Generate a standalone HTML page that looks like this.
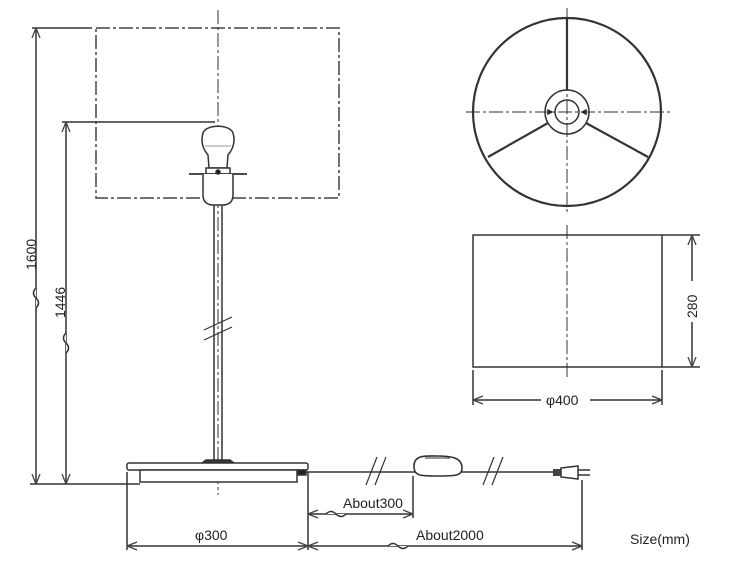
<!DOCTYPE html>
<html><head><meta charset="utf-8"><style>
html,body{margin:0;padding:0;background:#fff;}
svg{display:block;}
text{font-family:"Liberation Sans",sans-serif;font-size:14px;fill:#222;}
</style></head><body>
<svg width="750" height="562" viewBox="0 0 750 562" xmlns="http://www.w3.org/2000/svg">
<defs>
<marker id="a" viewBox="0 0 10 10" refX="10" refY="5" markerWidth="10" markerHeight="10" orient="auto-start-reverse" markerUnits="userSpaceOnUse"><path d="M0,1 L10,5 L0,9" fill="none" stroke="#444" stroke-width="1.3"/></marker>
</defs>
<g fill="none" stroke="#333" stroke-width="1.5">
<rect x="96" y="28" width="243" height="170" stroke-dasharray="14,3,3,3" stroke="#444"/>
<line x1="218" y1="10" x2="218" y2="495" stroke-dasharray="14,3,3,3" stroke-width="1"/>
<line x1="32" y1="28" x2="92" y2="28"/>
<line x1="36" y1="28" x2="36" y2="484" marker-start="url(#a)" marker-end="url(#a)"/>
<path d="M36,288 q-5,5 0,10 q5,5 0,10" fill="#fff" stroke="#333"/>
<line x1="62" y1="122" x2="215" y2="122"/>
<line x1="66" y1="122" x2="66" y2="484" marker-start="url(#a)" marker-end="url(#a)"/>
<path d="M66,333 q-5,5 0,10 q5,5 0,10" fill="#fff" stroke="#333"/>
<line x1="30" y1="484" x2="140" y2="484"/>
<path d="M209,168 L208,155 C202,148 201,140 203,133 C206,124 230,124 233,133 C235,140 234,148 228,155 L227,168 Z" fill="#fff"/>
<line x1="205" y1="146" x2="231" y2="146" stroke-width="0.6"/>
<rect x="206" y="168" width="24" height="6" fill="#fff"/>
<line x1="189" y1="174" x2="247" y2="174" stroke-width="1.8"/>
<path d="M203,174 L203,195 Q203,204 212,205 L224,205 Q233,204 233,195 L233,174" fill="#fff"/>
<circle cx="218" cy="172" r="2" fill="#111"/>
<line x1="214" y1="205" x2="214" y2="460"/>
<line x1="222" y1="205" x2="222" y2="460"/>
<line x1="204" y1="330" x2="232" y2="317" stroke-width="1.2"/>
<line x1="204" y1="340" x2="232" y2="327" stroke-width="1.2"/>
<path d="M206,460 L230,460 L234,463 L202,463 Z" fill="#333"/>
<rect x="127" y="463" width="181" height="7" rx="2" fill="#fff"/>
<rect x="140" y="470" width="157" height="12" fill="#fff"/>
<rect x="298" y="470" width="8" height="5" fill="#222"/>
<line x1="306" y1="472" x2="555" y2="472"/>
<line x1="366" y1="485" x2="377" y2="457" stroke-width="1.2"/>
<line x1="375" y1="485" x2="386" y2="457" stroke-width="1.2"/>
<line x1="483" y1="485" x2="494" y2="457" stroke-width="1.2"/>
<line x1="492" y1="485" x2="503" y2="457" stroke-width="1.2"/>
<path d="M414,466 C414,455 425,456 437,456 C450,456 462,457 462,468 C462,476 455,476 437,476 C420,476 414,476 414,466 Z" fill="#fff" stroke-width="1.6"/>
<line x1="425" y1="458" x2="450" y2="458" stroke-width="1"/>
<rect x="553" y="469" width="8" height="7" fill="#444" stroke="none"/>
<path d="M561,468 L578,466 L578,479 L561,477 Z" fill="#fff"/>
<line x1="578" y1="470" x2="590" y2="470"/><line x1="578" y1="475" x2="590" y2="475"/>
<line x1="127" y1="472" x2="127" y2="550"/>
<line x1="308" y1="472" x2="308" y2="550"/>
<line x1="413" y1="476" x2="413" y2="518"/>
<line x1="582" y1="480" x2="582" y2="550"/>
<line x1="127" y1="546" x2="308" y2="546" marker-start="url(#a)" marker-end="url(#a)"/>
<line x1="308" y1="546" x2="582" y2="546" marker-start="url(#a)" marker-end="url(#a)"/>
<line x1="308" y1="514" x2="413" y2="514" marker-start="url(#a)" marker-end="url(#a)"/>
<path d="M326,514 q5,-5 10,0 q5,5 10,0" fill="#fff"/>
<path d="M388,546 q5,-5 10,0 q5,5 10,0" fill="#fff"/>
<circle cx="567" cy="112" r="94" stroke-width="2.2"/>
<circle cx="567" cy="112" r="22"/>
<circle cx="567" cy="112" r="12"/>
<line x1="567" y1="18" x2="567" y2="90" stroke-width="2.2"/>
<line x1="548" y1="123" x2="488" y2="157" stroke-width="2.2"/>
<line x1="586" y1="123" x2="648" y2="157" stroke-width="2.2"/>
<line x1="466" y1="112" x2="670" y2="112" stroke-dasharray="14,3,3,3" stroke-width="1"/>
<line x1="567" y1="8" x2="567" y2="214" stroke-dasharray="14,3,3,3" stroke-width="1"/>
<path d="M548,110 l4,2 l-4,2 Z M586,110 l-4,2 l4,2 Z" fill="#111"/>
<rect x="473" y="235" width="189" height="132"/>
<line x1="567" y1="225" x2="567" y2="378" stroke-dasharray="14,3,3,3" stroke-width="1"/>
<line x1="662" y1="235" x2="700" y2="235"/>
<line x1="662" y1="367" x2="700" y2="367"/>
<line x1="692" y1="235" x2="692" y2="281" marker-start="url(#a)"/>
<line x1="692" y1="322" x2="692" y2="367" marker-end="url(#a)"/>
<line x1="473" y1="370" x2="473" y2="405"/>
<line x1="662" y1="370" x2="662" y2="405"/>
<line x1="473" y1="400" x2="541" y2="400" marker-start="url(#a)"/>
<line x1="590" y1="400" x2="662" y2="400" marker-end="url(#a)"/>
</g>
<text x="546" y="405">φ400</text>
<text transform="translate(697,318) rotate(-90)">280</text>
<text transform="translate(36,270) rotate(-90)">1600</text>
<text transform="translate(65,318) rotate(-90)">1446</text>
<text x="195" y="540">φ300</text>
<text x="343" y="508">About300</text>
<text x="416" y="540">About2000</text>
<text x="630" y="544">Size(mm)</text>
</svg>
</body></html>
